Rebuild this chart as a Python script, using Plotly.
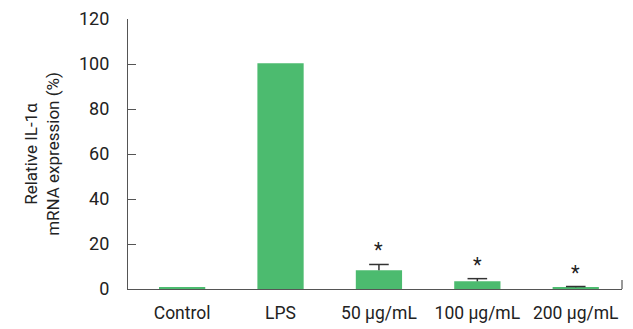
import plotly.graph_objects as go

categories = ["Control", "LPS", "50 μg/mL", "100 μg/mL", "200 μg/mL"]
values = [0.9, 100.3, 8.3, 3.4, 0.8]
errors = [0, 0, 2.6, 1.2, 0.3]
significant = [False, False, True, True, True]
y_ticks = [0, 20, 40, 60, 80, 100, 120]

FONT = "Roboto, Arial"
AXIS_COLOR = "#555555"
BAR_COLOR = "#4CBB6F"
ERR_COLOR = "#333333"

fig = go.Figure()
fig.add_trace(go.Bar(
    x=categories,
    y=values,
    width=0.47,
    marker=dict(color=BAR_COLOR, line=dict(width=0)),
))

# upper-only error bars (whisker from bar top, single cap at the top)
err_x = [c for c, e in zip(categories, errors) if e > 0]
err_top = [v + e for v, e in zip(values, errors) if e > 0]
err_e = [e for e in errors if e > 0]
fig.add_trace(go.Scatter(
    x=err_x, y=err_top, mode="markers",
    marker=dict(symbol="line-ew-open", size=14, color=ERR_COLOR,
                line=dict(color=ERR_COLOR, width=1.5)),
    error_y=dict(type="data", array=[0]*len(err_e), arrayminus=err_e,
                 symmetric=False, color=ERR_COLOR, thickness=1.5, width=0),
    hoverinfo="skip",
))

for c, v, e, s in zip(categories, values, errors, significant):
    if s:
        fig.add_annotation(x=c, y=v + e, text="*", showarrow=False,
                           yanchor="bottom", yshift=0,
                           font=dict(family=FONT, size=20, color="#222222"))

# small closing tick at the right end of the x axis
fig.add_shape(type="line", xref="paper", yref="y", x0=1, x1=1, y0=0, y1=4,
              line=dict(color=AXIS_COLOR, width=1.2))

# page body has an 8px default margin, so the figure is sized to fit
fig.update_layout(
    width=625, height=321,
    margin=dict(l=120, r=11, t=11, b=40, autoexpand=False),
    plot_bgcolor="white", paper_bgcolor="white",
    showlegend=False,
    font=dict(family=FONT, size=17, color="#222222"),
    xaxis=dict(range=[-0.55, 4.47], showline=True, linecolor=AXIS_COLOR,
               linewidth=1.2, ticks="", showgrid=False, zeroline=False,
               automargin=False, ticklabelstandoff=8, tickfont=dict(size=17.5)),
    yaxis=dict(range=[0, 120], tickvals=y_ticks, showline=True,
               linecolor=AXIS_COLOR, linewidth=1.2, ticks="inside",
               ticklen=8, tickcolor=AXIS_COLOR, tickwidth=1.2,
               showgrid=False, zeroline=False, ticklabelstandoff=14,
               automargin=False, tickfont=dict(size=18),
               title=dict(text="Relative IL-1α<br>mRNA expression (%)",
                          font=dict(size=17), standoff=14)),
)

fig.write_html("out.html")
